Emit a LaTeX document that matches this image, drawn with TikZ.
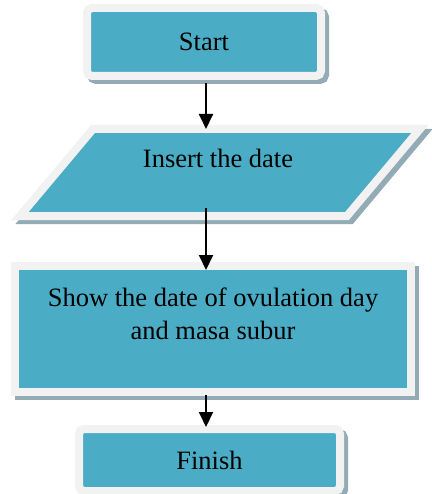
\documentclass[tikz,border=0pt]{standalone}
\usepackage{fontspec}
\setmainfont{Liberation Serif}
\usetikzlibrary{arrows.meta,shapes.geometric}
\definecolor{tealfill}{HTML}{4BACC6}
\definecolor{rim}{HTML}{F2F2F2}
\definecolor{shade}{HTML}{93ABB5}
\begin{document}
\begin{tikzpicture}[x=1pt,y=-1pt,
  txt/.style={font=\fontsize{26.5}{33}\selectfont, align=center},
  shapebase/.style={txt, fill=tealfill, draw=rim, line width=8pt, outer sep=0pt, inner sep=0pt,
    preaction={draw=shade, fill=shade, line width=8pt, transform canvas={xshift=4pt,yshift=-4pt}}},
  term/.style={shapebase, rectangle, rounded corners=5pt},
  io/.style={shapebase, trapezium, trapezium left angle=50, trapezium right angle=130,
    trapezium stretches body, text height=43.5pt, text depth=43.5pt},
  proc/.style={shapebase, rectangle},
  arr/.style={line width=2pt, -{Triangle[width=14pt,length=15pt]}}
]
\useasboundingbox[fill=white] (0,0) rectangle (431,494);
\node[term, minimum width=234pt, minimum height=68pt] (start) at (204,42) {Start};
\node[io, minimum width=400pt, minimum height=87pt,
  label={[txt, yshift=14pt, xshift=-2pt]center:Insert the date}] (insert) at (220,172.5) {};
\node[proc, minimum width=396pt, minimum height=126pt,
  label={[txt, yshift=15.5pt]center:Show the date of ovulation day\\and masa subur}] (show) at (213,329) {};
\node[term, minimum width=261pt, minimum height=62pt] (finish) at (209.5,460) {Finish};
\coordinate (ax) at (206,0);
\draw[arr] ([yshift=-7pt]start.south -| ax) -- (insert.north -| ax);
\draw[arr] ([yshift=8pt]insert.south -| ax) -- ([yshift=-4pt]show.north -| ax);
\draw[arr] ([yshift=-3pt]show.south -| ax) -- ([yshift=2pt]finish.north -| ax);
\end{tikzpicture}
\end{document}
